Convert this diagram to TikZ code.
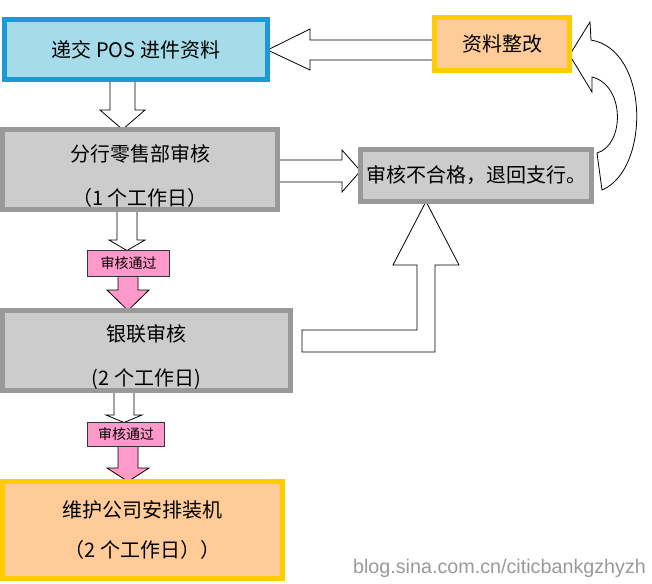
\documentclass[tikz,border=0pt]{standalone}
\usepackage{fontspec}
\setmainfont{Liberation Sans}
\newfontfamily\cjk{Noto Sans CJK SC}
\usetikzlibrary{backgrounds}
\definecolor{bluefill}{HTML}{A6DCEA}
\definecolor{blueline}{HTML}{1C9AD6}
\definecolor{greyfill}{HTML}{CCCCCC}
\definecolor{greyline}{HTML}{999999}
\definecolor{orangefill}{HTML}{FFCC99}
\definecolor{orangeline}{HTML}{FFCC00}
\definecolor{pinkfill}{HTML}{FF99CC}
% pushes a two-line box text a little lower
\newcommand{\toppad}{\rule{0pt}{22pt}}

\begin{document}
\begin{tikzpicture}[x=0.75pt, y=-0.75pt,
    box/.style={draw, line width=3.75pt, outer sep=0pt, inner sep=1pt, align=center, font=\cjk\fontsize{15}{18}\selectfont},
    bluebox/.style={box, draw=blueline, fill=bluefill},
    greybox/.style={box, draw=greyline, fill=greyfill},
    orangebox/.style={box, draw=orangeline, fill=orangefill},
    passtag/.style={draw=black!80, line width=0.6pt, fill=pinkfill, outer sep=0pt, inner sep=1pt, font=\cjk\fontsize{10.5}{12}\selectfont},
    blockarr/.style={draw=black, line width=0.6pt, fill=white, line join=miter},
    pinkarr/.style={blockarr, fill=pinkfill}]
    \useasboundingbox (0,0) rectangle (652,583);
    % boxes
    \node[bluebox, minimum width=197.25pt, minimum height=45pt] (post) at (136,49.5) {递交 POS 进件资料};
    \node[orangebox, minimum width=101.25pt, minimum height=39.75pt] (fix) at (502,44) {资料整改};
    \node[greybox, minimum width=206.25pt, minimum height=60pt] (branch) at (140,169.5) {\toppad 分行零售部审核\\[15pt]（1 个工作日）};
    \node[greybox, minimum width=173.25pt, minimum height=39pt] (reject) at (476,175.5) {审核不合格，退回支行。};
    \node[passtag, minimum width=61.5pt, minimum height=19.5pt] (pass1) at (128.5,263.5) {审核通过};
    \node[greybox, minimum width=216pt, minimum height=60pt] (unionpay) at (146.5,350.5) {\toppad 银联审核\\[15pt](2 个工作日)};
    \node[passtag, minimum width=57.75pt, minimum height=18pt] (pass2) at (126,434.5) {审核通过};
    \node[orangebox, minimum width=210pt, minimum height=72.75pt] (install) at (142.5,530) {维护公司安排装机\\[12pt]（2 个工作日））};
    \node[text=black!40, font=\fontsize{14.8}{17}\selectfont] (blog) at (499.5,568) {blog.sina.com.cn/citicbankgzhyzh};
    % block arrows
    \begin{scope}[on background layer]
        % downwards
        \draw[blockarr] (post.south -| 110,0) -- (110,110) -- (100,110) -- (branch.north -| 122.5,0) -- (145,110) -- (135,110) -- (post.south -| 135,0) -- cycle;
        \draw[blockarr] (branch.south -| 117,0) -- (117,240) -- (109,240) -- (pass1.north -| 127,0) -- (145,240) -- (137,240) -- (branch.south -| 137,0) -- cycle;
        \draw[pinkarr] (pass1.south -| 118,0) -- (118,290) -- (107,290) -- (unionpay.north -| 128,0) -- (149,290) -- (138,290) -- (pass1.south -| 138,0) -- cycle;
        \draw[blockarr] (unionpay.south -| 114,0) -- (114,415) -- (106,415) -- (pass2.north -| 124,0) -- (142,415) -- (134,415) -- (unionpay.south -| 134,0) -- cycle;
        \draw[pinkarr] (pass2.south -| 118,0) -- (118,468) -- (107,468) -- (install.north -| 128,0) -- (149,468) -- (138,468) -- (pass2.south -| 138,0) -- cycle;
        % sideways
        \draw[blockarr] (branch.east |- 0,160) -- (342,160) -- (342,150) -- (reject.west |- 0,171) -- (342,192) -- (342,182) -- (branch.east |- 0,182) -- cycle;
        \draw[blockarr] (fix.west |- 0,40) -- (310,40) -- (310,29) -- (post.east |- 0,50) -- (310,70) -- (310,60) -- (fix.west |- 0,60) -- cycle;
        % bent and curved
        \draw[blockarr] (302,330) -- (417,330) -- (417,265) -- (393,265) -- (reject.south -| 426,0) -- (459,265) -- (435,265) -- (435,352) -- (302,352) -- cycle;
        \draw[blockarr] (fix.east |- 0,55) -- (590,22) -- (591,40) .. controls (650,50) and (650,170) .. (602,190) -- (597,153) .. controls (625,145) and (625,85) .. (592,77) -- (592,92) -- cycle;
    \end{scope}
\end{tikzpicture}
\end{document}
